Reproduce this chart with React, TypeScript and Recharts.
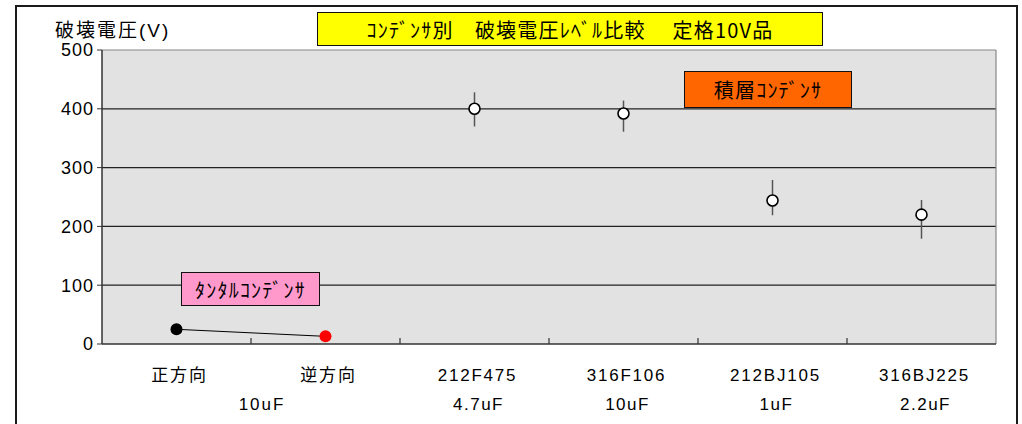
import { ScatterChart, Scatter, XAxis, YAxis, CartesianGrid, ErrorBar, ReferenceLine, Cell } from 'recharts'

// category labels (first line) and capacitance (second line)
const categories = ['正方向', '逆方向', '212F475', '316F106', '212BJ105', '316BJ225']
const capacities = ['', '', '4.7uF', '10uF', '1uF', '2.2uF']
const tantalumGroupLabel = '10uF'

// tantalum: forward / reverse breakdown voltage
const tantalumVolts = [25, 13]
const tantalumColors = ['#000000', '#ff0000']

// multilayer ceramic: mean with min / max spread
const mlccVolts = [400, 392, 244, 220]
const mlccMin = [370, 361, 219, 179]
const mlccMax = [428, 414, 279, 245]

const yTicks = [0, 100, 200, 300, 400, 500]
const gridValues = [100, 200, 300, 400]
const xTicks = [0, 0.5, 1, 1.5, 2, 2.5, 3, 3.5, 4, 4.5, 5, 5.5, 6]

const tantalumData = tantalumVolts.map((v, i) => ({ x: i + 0.5, v }))
const mlccData = mlccVolts.map((v, i) => ({
  x: i + 2.5,
  v,
  err: [v - mlccMin[i], mlccMax[i] - v],
}))

const latin = "'Liberation Sans', 'Noto Sans CJK JP', sans-serif"
const jp = "'Noto Sans CJK JP', sans-serif"

const XTick = (props: any) => {
  const { x, y, payload } = props
  const val: number = payload.value
  if (Number.isInteger(val)) {
    if (val === 0 || val === 6) return <g />
    return (
      <g>
        <line x1={x} y1={y} x2={x} y2={y - 6} stroke="#333" strokeWidth={1.2} />
        {val === 1 && (
          <text x={x + 11} y={y + 60} textAnchor="middle" dominantBaseline="central"
            fontSize={17} letterSpacing={2} fontFamily={latin} fill="#000">
            {tantalumGroupLabel}
          </text>
        )}
      </g>
    )
  }
  const idx = Math.floor(val)
  return (
    <g>
      <text x={x + 3} y={y + 31} textAnchor="middle" dominantBaseline="central"
        fontSize={17} letterSpacing={1.8} fontFamily={latin} fill="#000">
        {categories[idx]}
      </text>
      {capacities[idx] && (
        <text x={x + 4} y={y + 60} textAnchor="middle" dominantBaseline="central"
          fontSize={17} letterSpacing={1.5} fontFamily={latin} fill="#000">
          {capacities[idx]}
        </text>
      )}
    </g>
  )
}

const boxStyle = (left: number, top: number, width: number, height: number, bg: string): React.CSSProperties => ({
  position: 'absolute',
  left,
  top,
  width,
  height,
  boxSizing: 'border-box',
  background: bg,
  border: '1.5px solid #111',
  display: 'flex',
  alignItems: 'center',
  justifyContent: 'center',
  fontFamily: jp,
  fontSize: 20,
  letterSpacing: 1.2,
  color: '#000',
  whiteSpace: 'pre',
})

export default function App() {
  return (
    <div style={{ position: 'relative', width: 1022, height: 424, background: '#fff', overflow: 'hidden' }}>
      <style>{'body{margin:0}'}</style>
      <div style={{ position: 'absolute', left: 15, top: 5, width: 1003, height: 440, boxSizing: 'border-box', border: '2px solid #1a1a1a' }} />
      <ScatterChart width={1022} height={424} margin={{ top: 50, right: 26, bottom: 0, left: 0 }}
        style={{ position: 'absolute', left: 0, top: 0 }}>
        <CartesianGrid fill="#e2e2e2" vertical={false} horizontalValues={gridValues} stroke="#222" strokeWidth={1.2} />
        <XAxis type="number" dataKey="x" domain={[0, 6]} ticks={xTicks} interval={0} height={80}
          tickLine={false} tickSize={0} tickMargin={0} axisLine={{ stroke: '#333', strokeWidth: 1.5 }} tick={<XTick />} />
        <YAxis type="number" dataKey="v" domain={[0, 500]} ticks={yTicks} interval={0} width={102}
          tickSize={5} tickMargin={3} tickLine={{ stroke: '#333' }} axisLine={{ stroke: '#333', strokeWidth: 1.5 }}
          tick={{ fontSize: 18, fill: '#000', fontFamily: latin, letterSpacing: 1 }} />
        <ReferenceLine y={500} stroke="#888" strokeWidth={1.2} />
        <ReferenceLine x={6} stroke="#888" strokeWidth={1.2} />
        <Scatter data={tantalumData} isAnimationActive={false} line={{ stroke: '#000', strokeWidth: 1 }}
          shape={(p: any) => <circle cx={p.cx} cy={p.cy} r={6} fill={p.fill} />}>
          {tantalumData.map((_, i) => (
            <Cell key={i} fill={tantalumColors[i]} />
          ))}
        </Scatter>
        <Scatter data={mlccData} isAnimationActive={false}
          shape={(p: any) => <circle cx={p.cx} cy={p.cy} r={5.5} fill="#fff" stroke="#000" strokeWidth={1.6} />}>
          <ErrorBar dataKey="err" direction="y" width={0} stroke="#555" strokeWidth={1.5} />
        </Scatter>
      </ScatterChart>
      <div style={{ position: 'absolute', left: 55, top: 15, fontFamily: latin, fontSize: 19, letterSpacing: 2, color: '#000', whiteSpace: 'pre' }}>
        破壊電圧(V)
      </div>
      <div style={boxStyle(317, 12, 506, 34, '#ffff00')}>ｺﾝﾃﾞﾝｻ別　破壊電圧ﾚﾍﾞﾙ比較　 定格10V品</div>
      <div style={boxStyle(684, 71, 168, 37, '#ff6600')}>積層ｺﾝﾃﾞﾝｻ</div>
      <div style={boxStyle(181, 272, 139, 34, '#ff99cc')}>ﾀﾝﾀﾙｺﾝﾃﾞﾝｻ</div>
    </div>
  )
}
